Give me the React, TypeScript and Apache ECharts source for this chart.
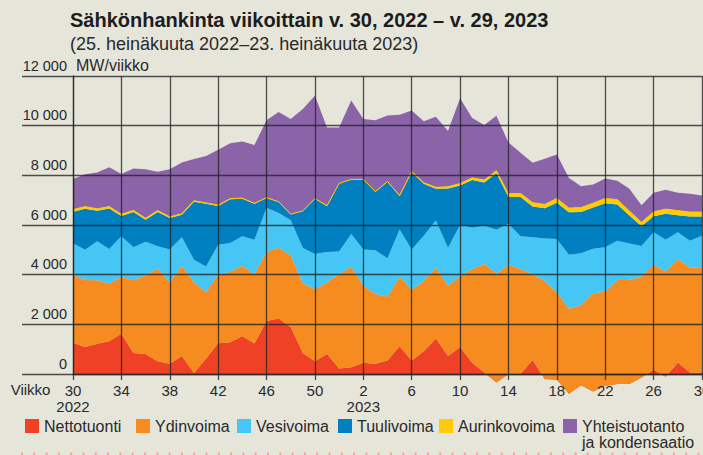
import React, { useEffect, useRef } from "react";
import * as echarts from "echarts";

const weeks = [
  "30", "31", "32", "33", "34", "35", "36", "37", "38", "39", "40", "41", "42", "43", "44", "45",
  "46", "47", "48", "49", "50", "51", "52", "1", "2", "3", "4", "5", "6", "7", "8", "9", "10",
  "11", "12", "13", "14", "15", "16", "17", "18", "19", "20", "21", "22", "23", "24", "25", "26",
  "27", "28", "29", "30",
];
const yearLabels = ["2022", "2023"];
const yearLabelIndex = [0, 24];
const yTickLabels = ["0", "2 000", "4 000", "6 000", "8 000", "10 000", "12 000"];

const nettotuonti = [1260, 1090, 1220, 1320, 1620, 850, 810, 510, 410, 720, 40, 620, 1240, 1280, 1530, 1230, 2130, 2230, 1890, 850, 510, 810, 220, 270, 450, 410, 540, 1120, 540, 920, 1430, 720, 1090, 450, 60, -340, 0, 0, 560, -200, -230, -800, -450, -700, -470, -400, -400, -140, 170, -110, 460, 60, 60];
const ydinvoima = [2740, 2700, 2560, 2320, 2300, 2930, 3170, 3740, 3280, 3640, 3650, 2670, 2780, 2840, 2830, 2790, 2790, 2850, 2880, 2800, 2900, 2880, 3800, 4050, 3100, 2810, 2580, 2800, 2850, 2830, 2860, 2830, 2860, 3780, 4370, 4390, 4390, 4230, 3460, 3950, 3510, 3430, 3220, 3940, 3790, 4190, 4190, 4060, 4220, 4240, 4170, 4230, 4230];
const vesivoima = [1270, 1210, 1570, 1390, 1630, 1320, 1350, 890, 1320, 1150, 910, 1040, 1180, 1160, 1190, 1390, 1770, 1400, 1420, 1420, 1420, 1220, 910, 1320, 1460, 1760, 1540, 1900, 1620, 1820, 1890, 1530, 2050, 1660, 1540, 1760, 1660, 1320, 1490, 1710, 2160, 2170, 2090, 1800, 1780, 1580, 1470, 1230, 1320, 1280, 1080, 1080, 1280];
const tuulivoima = [1260, 1650, 1220, 1630, 810, 1420, 880, 1380, 1270, 900, 2340, 2530, 1570, 1760, 1510, 1450, 400, 450, 240, 1490, 2230, 1850, 2740, 2190, 2820, 2360, 3080, 1350, 3110, 2090, 1280, 2390, 1590, 1920, 1740, 2270, 1080, 1580, 1240, 1210, 1460, 1710, 1660, 1660, 1780, 1460, 1120, 800, 640, 1040, 680, 970, 770];
const aurinkovoima = [90, 90, 80, 80, 70, 70, 60, 60, 50, 40, 40, 30, 30, 25, 20, 15, 10, 8, 5, 5, 5, 20, 5, 5, 5, 8, 10, 15, 30, 40, 60, 70, 80, 90, 100, 110, 130, 140, 150, 160, 170, 170, 180, 180, 190, 190, 180, 160, 180, 190, 190, 180, 180];
const yhteistuotanto = [1230, 1300, 1460, 1590, 1620, 1690, 1980, 1560, 1920, 2070, 1680, 1890, 2230, 2230, 2280, 2350, 3120, 3610, 3830, 4110, 4140, 3150, 2250, 3180, 2430, 2870, 2660, 3250, 2460, 2480, 2840, 2250, 3430, 2410, 2220, 2210, 2060, 1640, 1610, 1840, 1770, 1210, 860, 750, 800, 760, 900, 690, 770, 780, 720, 740, 670];

const seriesNames = ["Nettotuonti", "Ydinvoima", "Vesivoima", "Tuulivoima", "Aurinkovoima", "Yhteistuotanto"];
const seriesData = [nettotuonti, ydinvoima, vesivoima, tuulivoima, aurinkovoima, yhteistuotanto];
const seriesColors = ["#EE4125", "#F68B1F", "#45C6F4", "#0080C1", "#FFCB05", "#8B63A9"];
const legendLefts = [25, 136, 237, 338, 439, 563];

const FONT = "Liberation Sans";
const BG = "#E5E5DA";
const TEXT = "#2a2a2a";
const GRID_LINE = { color: "rgba(35,35,35,0.8)", width: 1.3 };

export default function App() {
  const ref = useRef<HTMLDivElement>(null);
  useEffect(() => {
    if (!ref.current) return;
    const chart = echarts.init(ref.current, null, { renderer: "svg" });
    const option: any = {
      animation: false,
      backgroundColor: BG,
      textStyle: { fontFamily: FONT },
      grid: [
        { left: 73, right: 1, top: 76, bottom: 81, outerBoundsMode: "none", containLabel: false },
        { left: 22, width: 51, top: 76, bottom: 81, outerBoundsMode: "none", containLabel: false },
      ],
      xAxis: [
        {
          type: "category",
          gridIndex: 0,
          data: weeks,
          boundaryGap: false,
          z: 10,
          axisLine: { show: true, lineStyle: GRID_LINE },
          axisTick: { show: true, interval: 3, length: 6, lineStyle: GRID_LINE },
          axisLabel: {
            interval: 3,
            fontSize: 15,
            color: TEXT,
            margin: 8,
            lineHeight: 16,
            fontFamily: FONT,
            hideOverlap: false,
            formatter: (v: string, i: number) => {
              const k = yearLabelIndex.indexOf(i);
              return k >= 0 ? v + "\n" + yearLabels[k] : v;
            },
          },
          splitLine: { show: true, interval: 3, lineStyle: GRID_LINE },
          name: "Viikko",
          nameLocation: "start",
          nameGap: 11,
          nameTextStyle: {
            fontSize: 15,
            color: TEXT,
            align: "right",
            verticalAlign: "top",
            padding: [8, 0, 0, 0],
            fontFamily: FONT,
          },
        },
        { type: "value", gridIndex: 1, show: false, min: 0, max: 1 },
      ],
      yAxis: [
        {
          type: "value",
          gridIndex: 0,
          min: 0,
          max: 12000,
          interval: 2000,
          z: 10,
          axisLine: { show: true, lineStyle: GRID_LINE },
          axisTick: { show: false },
          axisLabel: {
            fontSize: 14.5,
            color: TEXT,
            margin: 6,
            verticalAlign: "bottom",
            padding: [0, 0, 3, 0],
            fontFamily: FONT,
            formatter: (v: number) => yTickLabels[Math.round(v / 2000)],
          },
          splitLine: { show: true, lineStyle: GRID_LINE },
          name: "MW/viikko",
          nameLocation: "end",
          nameGap: 3,
          nameTextStyle: {
            fontSize: 16,
            color: TEXT,
            align: "left",
            verticalAlign: "bottom",
            padding: [0, 0, 0, 3],
            fontFamily: FONT,
          },
        },
        {
          type: "value",
          gridIndex: 1,
          min: 0,
          max: 12000,
          interval: 2000,
          z: 10,
          axisLine: { show: false },
          axisTick: { show: false },
          axisLabel: { show: false },
          splitLine: { show: true, lineStyle: GRID_LINE },
        },
      ],
      legend: seriesNames.map((n, i) => ({
        data: [n],
        left: legendLefts[i],
        top: 418,
        padding: 0,
        itemWidth: 14,
        itemHeight: 14,
        icon: "rect",
        selectedMode: false,
        textStyle: { fontSize: 16, color: TEXT, fontFamily: FONT },
      })),
      series: seriesNames.map((n, i) => ({
        name: n,
        type: "line",
        stack: "total",
        stackStrategy: "all",
        data: seriesData[i],
        symbol: "none",
        clip: false,
        silent: true,
        color: seriesColors[i],
        lineStyle: i === 4 ? { width: 1, color: seriesColors[i] } : { width: 0, opacity: 0 },
        areaStyle: { color: seriesColors[i], opacity: 1 },
        emphasis: { disabled: true },
        z: 2,
      })),
      graphic: [
        {
          type: "text",
          x: 70,
          y: 19.5,
          style: {
            text: "Sähkönhankinta viikoittain v. 30, 2022 – v. 29, 2023",
            fontFamily: FONT,
            fontWeight: "bold",
            fontSize: 20,
            fill: "#1c1c1c",
            verticalAlign: "middle",
          },
        },
        {
          type: "text",
          x: 70,
          y: 43.5,
          style: {
            text: "(25. heinäkuuta 2022–23. heinäkuuta 2023)",
            fontFamily: FONT,
            fontSize: 18,
            fill: TEXT,
            verticalAlign: "middle",
          },
        },
        {
          type: "text",
          x: legendLefts[5] + 19,
          y: 442,
          style: {
            text: "ja kondensaatio",
            fontFamily: FONT,
            fontSize: 16,
            fill: TEXT,
            verticalAlign: "middle",
          },
        },
        {
          type: "line",
          shape: { x1: 21, y1: 454, x2: 703, y2: 454 },
          style: { stroke: "#EFA797", lineWidth: 3, lineDash: [2, 10.3] },
        },
      ],
    };
    chart.setOption(option);
    return () => chart.dispose();
  }, []);
  return (
    <div
      ref={ref}
      style={{ position: "absolute", left: 0, top: 0, width: 703, height: 455, background: BG }}
    />
  );
}
